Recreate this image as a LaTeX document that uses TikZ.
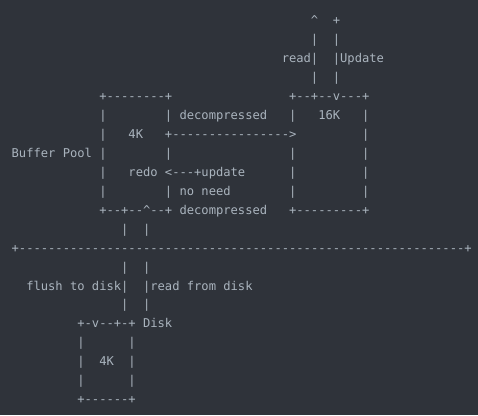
\documentclass[tikz,border=0pt]{standalone}
\usepackage{fontspec}
\setmonofont{DejaVu Sans Mono}
\definecolor{bgcol}{RGB}{47,51,58}
\definecolor{txtcol}{RGB}{170,180,190}
\newcommand\asc[4]{\node[txt] (#1) at ({11.65+7.3*#2},{-(100.4+(#3-5)*18.96)}) {#4};}
\begin{document}
\begin{tikzpicture}[x=1pt,y=1pt,
  txt/.style={anchor=base west,inner sep=0pt,outer sep=0pt,text=txtcol,
    font=\ttfamily\fontsize{12.13pt}{14pt}\selectfont}]
\fill[bgcol] (0,0) rectangle (478,-415);
\useasboundingbox (0,0) rectangle (478,-415);
% row 1-4: read / Update
\asc{upA}{41}{1}{\textasciicircum}
\asc{upB}{44}{1}{+}
\asc{r2a}{41}{2}{|}
\asc{r2b}{44}{2}{|}
\asc{readlbl}{37}{3}{read|}
\asc{updlbl}{44}{3}{|Update}
\asc{r4a}{41}{4}{|}
\asc{r4b}{44}{4}{|}
% row 5
\asc{boxAtop}{12}{5}{+--------+}
\asc{boxBtop}{38}{5}{+--+--v---+}
% row 6
\asc{r6a}{12}{6}{|}
\asc{r6b}{21}{6}{|}
\asc{dec1}{23}{6}{decompressed}
\asc{r6c}{38}{6}{|}
\asc{k16}{42}{6}{16K}
\asc{r6d}{48}{6}{|}
% row 7
\asc{r7a}{12}{7}{|}
\asc{k4a}{16}{7}{4K}
\asc{arrow1}{21}{7}{+---------------->}
\asc{r7d}{48}{7}{|}
% row 8
\asc{bp}{0}{8}{Buffer Pool}
\asc{r8a}{12}{8}{|}
\asc{r8b}{21}{8}{|}
\asc{r8c}{38}{8}{|}
\asc{r8d}{48}{8}{|}
% row 9
\asc{r9a}{12}{9}{|}
\asc{redo}{16}{9}{redo <---+update}
\asc{r9c}{38}{9}{|}
\asc{r9d}{48}{9}{|}
% row 10
\asc{r10a}{12}{10}{|}
\asc{noneed}{21}{10}{| no need}
\asc{r10c}{38}{10}{|}
\asc{r10d}{48}{10}{|}
% row 11
\asc{boxAbot}{12}{11}{+--+--\textasciicircum--+ decompressed}
\asc{boxBbot}{38}{11}{+---------+}
% row 12
\asc{r12a}{15}{12}{|}
\asc{r12b}{18}{12}{|}
% row 13
\asc{divider}{0}{13}{+-------------------------------------------------------------+}
% row 14
\asc{r14a}{15}{14}{|}
\asc{r14b}{18}{14}{|}
% row 15
\asc{flush}{2}{15}{flush to disk|}
\asc{rfd}{18}{15}{|read from disk}
% row 16
\asc{r16a}{15}{16}{|}
\asc{r16b}{18}{16}{|}
% row 17-21 disk box
\asc{disktop}{9}{17}{+-v--+-+ Disk}
\asc{r18a}{9}{18}{|}
\asc{r18b}{16}{18}{|}
\asc{r19a}{9}{19}{|}
\asc{k4b}{12}{19}{4K}
\asc{r19b}{16}{19}{|}
\asc{r20a}{9}{20}{|}
\asc{r20b}{16}{20}{|}
\asc{diskbot}{9}{21}{+------+}
\end{tikzpicture}
\end{document}
